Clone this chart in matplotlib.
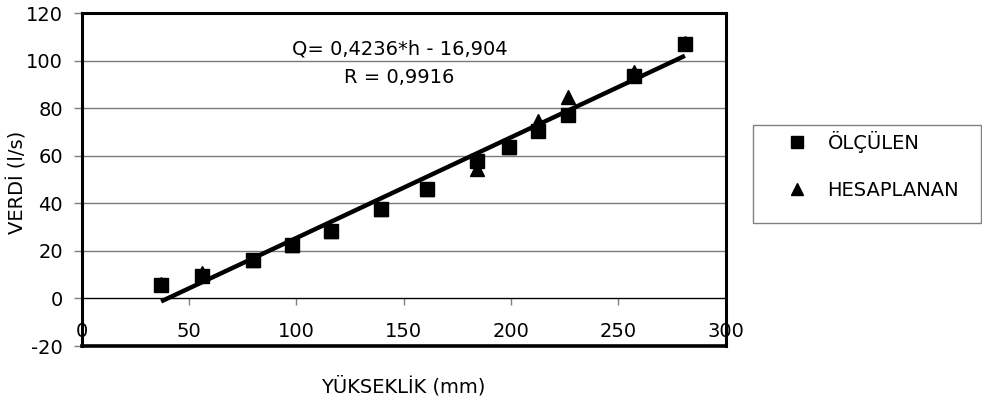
import matplotlib

matplotlib.use("Agg")
import matplotlib.pyplot as plt
import numpy as np
from matplotlib.patches import Rectangle

# readings
heights = [37, 56, 80, 98, 116, 139.5, 161, 184, 199, 212.5, 226.5, 257.5, 281]
q_measured = [5.5, 9.5, 16.2, 22.3, 28.5, 37.5, 46.0, 57.7, 63.6, 70.3, 77.3, 93.8, 106.9]
q_computed = [6.2, 10.6, 16.4, 22.5, 28.5, 37.5, 46.0, 54.4, 63.6, 74.5, 84.6, 95.5, 107.4]

# trend line shown on the chart
slope, intercept = 0.4236, -16.904
eq_text = "Q= 0,4236*h - 16,904"
r_text = "R = 0,9916"

x_ticks = [0, 50, 100, 150, 200, 250, 300]
y_ticks = [-20, 0, 20, 40, 60, 80, 100, 120]

plt.rcParams["font.family"] = ["DejaVu Sans"]
plt.rcParams["axes.unicode_minus"] = False
FS = 14

fig = plt.figure(figsize=(9.82, 4.03), dpi=100)
ax = fig.add_axes([0.0832, 0.1414, 0.6558, 0.8256])
ax.set_xlim(0, 300)
ax.set_ylim(-20, 120)

# gray gridlines, x axis sits at y = 0
for yv in y_ticks[2:-1]:
    ax.axhline(yv, color="#7a7a7a", lw=1.0, zorder=1)

ax.spines["bottom"].set_position(("data", 0))
ax.spines["bottom"].set_linewidth(1.0)
ax.spines["bottom"].set_color("black")
for side in ("left", "right", "top"):
    ax.spines[side].set_linewidth(2.2)
    ax.spines[side].set_color("black")
# bottom border of the plot area
ax.plot([0, 1], [0, 0], transform=ax.transAxes, color="black", lw=2.6,
        clip_on=False, zorder=5, solid_capstyle="projecting")

ax.set_xticks(x_ticks)
ax.set_yticks(y_ticks)
ax.tick_params(axis="x", direction="out", length=5, width=1, color="#808080",
               labelsize=FS, pad=12)
ax.tick_params(axis="y", direction="out", length=5.5, width=1, color="#808080",
               labelsize=FS, pad=8)

ax.plot(heights, q_computed, linestyle="none", marker="^", ms=10, color="black",
        label="HESAPLANAN", zorder=3)
ax.plot(heights, q_measured, linestyle="none", marker="s", ms=10, color="black",
        label="ÖLÇÜLEN", zorder=4)

h_fit = np.array([min(heights), max(heights)])
ax.plot(h_fit, slope * h_fit + intercept, color="black", lw=3.2,
        solid_capstyle="butt", zorder=6)

ax.text(148, 105, eq_text, ha="center", va="center", fontsize=FS)
ax.text(148, 92.8, r_text, ha="center", va="center", fontsize=FS)

fig.text(403 / 982, 1 - 386.5 / 403, "YÜKSEKLİK (mm)", ha="center",
         va="center", fontsize=FS)
fig.text(18 / 982, 1 - 182 / 403, "VERDİ (l/s)", ha="center", va="center",
         rotation=90, fontsize=FS)

# legend with a plain gray frame
handles, labels = ax.get_legend_handles_labels()
order = [1, 0]
fig.legend([handles[i] for i in order], [labels[i] for i in order],
           loc="center left", bbox_to_anchor=(778 / 982, 1 - 165.5 / 403),
           frameon=False, fontsize=FS, handlelength=1.0, handletextpad=1.05,
           labelspacing=1.45, borderpad=0, markerscale=0.85)
fig.add_artist(Rectangle((753 / 982, 1 - 223 / 403), 228 / 982, 98 / 403,
                         transform=fig.transFigure, fill=False,
                         edgecolor="#808080", lw=1.0))

fig.savefig("out.png", dpi=100)
